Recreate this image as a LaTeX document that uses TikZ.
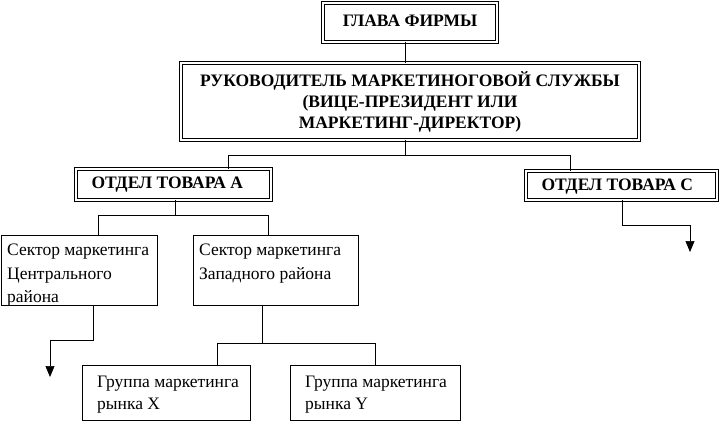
\documentclass[tikz,border=0pt]{standalone}
\usepackage{fontspec}
\setmainfont{Liberation Serif}
\usetikzlibrary{arrows.meta}
\begin{document}
\begin{tikzpicture}[x=1pt,y=-1pt,
  dbl/.style={draw,double,double distance=2pt,line width=0.6pt,inner sep=0pt},
  sgl/.style={draw,line width=0.7pt,inner sep=0pt},
  ln/.style={line width=0.7pt},
  arr/.style={ln,-{Triangle[length=11pt,width=9pt]}},
  bt/.style={font=\bfseries\fontsize{17.5}{21}\selectfont},
  rt/.style={font=\fontsize{17.5}{23.5}\selectfont,align=left,anchor=north west,inner sep=0pt}]
\useasboundingbox (0,0) rectangle (720,421);
\draw[dbl] (323,3) rectangle (497,42);
\node[bt] (t) at (410,21) {ГЛАВА ФИРМЫ};
\draw[dbl] (181,63) rectangle (639,140);
\node[bt,align=center] (r) at (410,102) {РУКОВОДИТЕЛЬ МАРКЕТИНОГОВОЙ СЛУЖБЫ\\(ВИЦЕ-ПРЕЗИДЕНТ ИЛИ\\МАРКЕТИНГ-ДИРЕКТОР)};
\draw[dbl] (76,169) rectangle (271,200);
\node[bt,anchor=west] (a) at (88,185) {ОТДЕЛ ТОВАРА А};
\draw[dbl] (526,171) rectangle (717,200);
\node[bt,anchor=west] (c) at (538,187) {ОТДЕЛ ТОВАРА С};
\draw[sgl] (1,235) rectangle (157,305);
\node[rt] (s1) at (7,244) {Сектор маркетинга\\Центрального\\района};
\draw[sgl] (193,235) rectangle (358,305);
\node[rt] (s2) at (199,244) {Сектор маркетинга\\Западного района};
\draw[sgl] (82,365) rectangle (250,420);
\node[rt,font=\fontsize{17.5}{22}\selectfont] (g1) at (97,376) {Группа маркетинга\\рынка Х};
\draw[sgl] (290,365) rectangle (460,420);
\node[rt,font=\fontsize{17.5}{22}\selectfont] (g2) at (305,376) {Группа маркетинга\\рынка Y};
% connectors
\draw[ln] (405,42) -- (405,63);
\draw[ln] (405,140) -- (405,155);
\draw[ln] (228,169) -- (228,155) -- (570,155) -- (570,171);
\draw[ln] (175,200) -- (175,215);
\draw[ln] (98,235) -- (98,215) -- (268,215) -- (268,235);
\draw[ln] (93,305) -- (93,340) -- (50,340);
\draw[arr] (50,340) -- (50,377);
\draw[ln] (622,200) -- (622,225) -- (690,225);
\draw[arr] (690,225) -- (690,252);
\draw[ln] (262,305) -- (262,343);
\draw[ln] (217,365) -- (217,343) -- (375,343) -- (375,365);
\end{tikzpicture}
\end{document}
